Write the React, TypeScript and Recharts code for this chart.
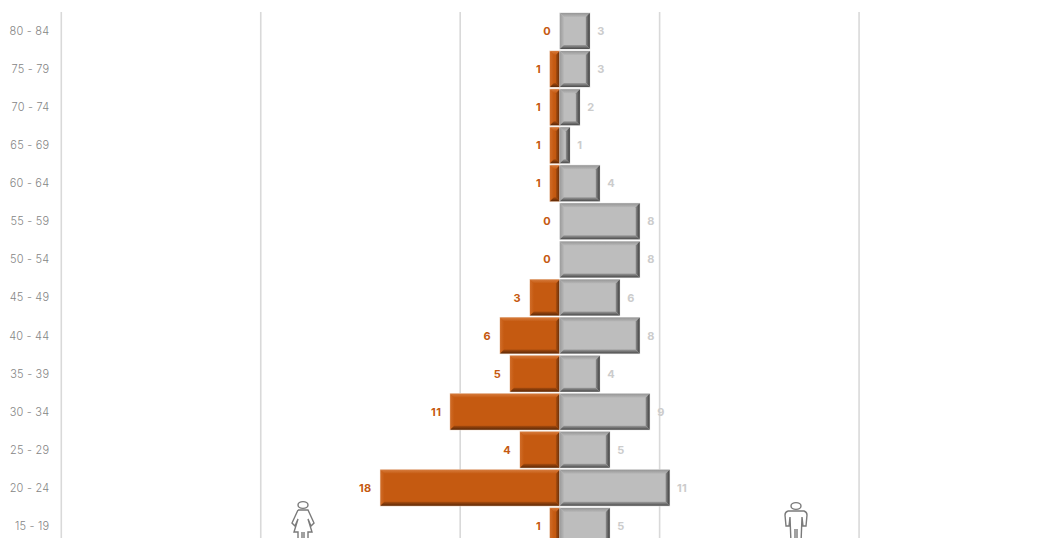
import React from 'react';
import { BarChart, Bar, XAxis, YAxis, CartesianGrid, LabelList } from 'recharts';

const ageGroups = ['80 - 84','75 - 79','70 - 74','65 - 69','60 - 64','55 - 59','50 - 54','45 - 49','40 - 44','35 - 39','30 - 34','25 - 29','20 - 24','15 - 19'];
const femaleCounts = [0,1,1,1,1,0,0,3,6,5,11,4,18,1];
const maleCounts = [3,3,2,1,4,8,8,6,8,4,9,5,11,5];
const axisTicks = [-50,-30,-10,10,30,50];
const rows = ageGroups.map((age,i)=>({age,female:-femaleCounts[i],male:maleCounts[i]}));

const FONT = 'Inter, "DejaVu Sans", sans-serif';

const Grad = ({ id, dir, from, to }: any) => {
  const v: any = { down:{x1:0,y1:0,x2:0,y2:1}, up:{x1:0,y1:1,x2:0,y2:0}, right:{x1:0,y1:0,x2:1,y2:0}, left:{x1:1,y1:0,x2:0,y2:0} }[dir];
  return <linearGradient id={id} {...v}><stop offset="0" stopColor={from} /><stop offset="1" stopColor={to} /></linearGradient>;
};

function bevel(p: any, c: any) {
  const { x, y, width, height } = p;
  const left = Math.min(x, x + width), w = Math.abs(width);
  if (w < 0.5) return <g />;
  const r = left + w, b = y + height;
  const s = Math.min(4, w / 2, height / 2);
  return (
    <g>
      <defs>
        <Grad id={`${c.name}T`} dir="down" from={c.top[0]} to={c.top[1]} />
        <Grad id={`${c.name}L`} dir="right" from={c.left[0]} to={c.left[1]} />
        <Grad id={`${c.name}R`} dir="left" from={c.right[0]} to={c.right[1]} />
        <Grad id={`${c.name}B`} dir="up" from={c.bottom[0]} to={c.bottom[1]} />
      </defs>
      <rect x={left} y={y} width={w} height={height} fill={c.face} stroke={c.outline} strokeWidth={1} />
      <polygon points={`${left},${y} ${r},${y} ${r-s},${y+s} ${left+s},${y+s}`} fill={`url(#${c.name}T)`} />
      <polygon points={`${left},${y} ${left+s},${y+s} ${left+s},${b-s} ${left},${b}`} fill={`url(#${c.name}L)`} />
      <polygon points={`${r},${y} ${r},${b} ${r-s},${b-s} ${r-s},${y+s}`} fill={`url(#${c.name}R)`} />
      <polygon points={`${left},${b} ${r},${b} ${r-s},${b-s} ${left+s},${b-s}`} fill={`url(#${c.name}B)`} />
    </g>
  );
}
const orange = { name:'o', face:'#C55A11', outline:'#EBCDB6', top:['#D67B3C','#C55A11'], left:['#D06C28','#C55A11'], right:['#5F2A07','#AC4E0E'], bottom:['#5A2706','#A84C0E'] };
const grey = { name:'g', face:'#BDBDBD', outline:'#DEDEDE', top:['#969696','#B8B8B8'], left:['#9C9C9C','#B8B8B8'], right:['#3C3C3C','#8E8E8E'], bottom:['#484848','#9C9C9C'] };

const FemaleLabel = (p: any) => {
  const { x, y, width, height, value } = p;
  const edge = Math.min(x, x + width);
  return <text x={edge - 9} y={y + height / 2 + 4} textAnchor="end" fontFamily={FONT} fontSize={11} fontWeight={700} letterSpacing={0.3} fill="#C55A11">{Math.abs(value)}</text>;
};
const MaleLabel = (p: any) => {
  const { x, y, width, height, value } = p;
  return <text x={x + width + 7.5} y={y + height / 2 + 4} textAnchor="start" fontFamily={FONT} fontSize={11} fontWeight={700} letterSpacing={0.3} fill="#CCCCCC">{value}</text>;
};

const Female = ({ left, top }: any) => (
  <svg style={{ position:'absolute', left, top }} width={28} height={40} viewBox="0 0 28 40" fill="#fff" stroke="#7a7a7a" strokeWidth={1.4}>
    <ellipse cx={14} cy={5} rx={5} ry={3.4} />
    <path d="M9 10 L19 10 L25 23 L22 26 L19 19 L23 32 L19 32 L19 42 M9 10 L3 23 L6 26 L9 19 L5 32 L9 32 L9 42 M13 32 L13 42 M15 32 L15 42" />
  </svg>
);
const Male = ({ left, top }: any) => (
  <svg style={{ position:'absolute', left, top }} width={28} height={40} viewBox="0 0 28 40" fill="#fff" stroke="#7a7a7a" strokeWidth={1.4}>
    <ellipse cx={14} cy={5} rx={5} ry={3.4} />
    <path d="M6 10 L22 10 Q25 11 25 14 L24 25 L21 25 L20 16 L19 42 M6 10 Q3 11 3 14 L4 25 L7 25 L8 16 L9 42 M13 28 L13 42 M15 28 L15 42" />
  </svg>
);

export default function App() {
  return (
    <div style={{ position:'absolute', left:0, top:0, width:1045, height:538, overflow:'hidden', background:'#fff' }}>
      <BarChart width={1060} height={560} data={rows} layout="vertical" stackOffset="sign" barCategoryGap={1}
        margin={{ top:12, right:1.5, bottom:15, left:0 }}>
        <CartesianGrid horizontal={false} stroke="#D9D9D9" strokeWidth={1.6} />
        <XAxis type="number" domain={[-50,50]} ticks={axisTicks} hide />
        <YAxis type="category" dataKey="age" width={61.3} tickLine={false} axisLine={false} tickMargin={6} interval={0}
          tick={{ fontFamily:FONT, fontSize:11, fontWeight:300, fill:'#858585', letterSpacing:0.2 }} />
        <Bar dataKey="female" stackId="a" isAnimationActive={false} shape={(p: any) => bevel(p, orange)}>
          <LabelList dataKey="female" content={FemaleLabel} />
        </Bar>
        <Bar dataKey="male" stackId="a" isAnimationActive={false} shape={(p: any) => bevel(p, grey)}>
          <LabelList dataKey="male" content={MaleLabel} />
        </Bar>
      </BarChart>
      <Female left={289} top={500} />
      <Male left={782} top={501} />
    </div>
  );
}
